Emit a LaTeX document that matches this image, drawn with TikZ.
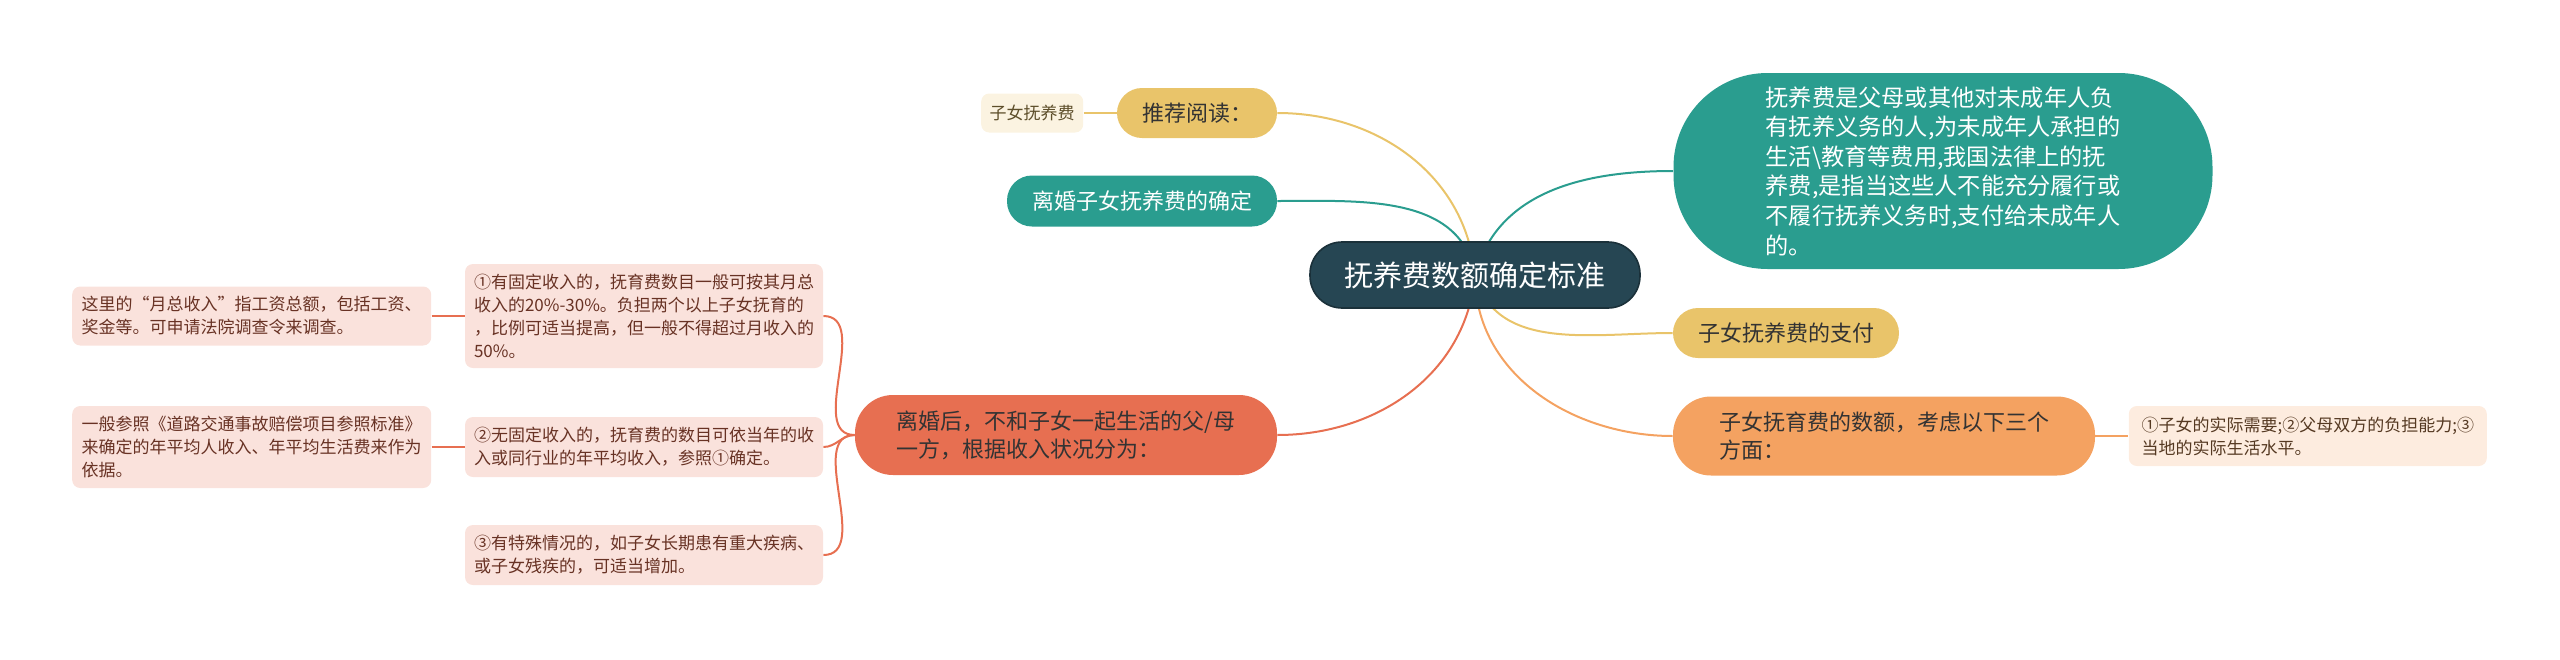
\documentclass[tikz,border=0pt]{standalone}
\usepackage{fontspec}
\setmainfont{Noto Sans CJK SC}
\usepackage{tikz}
\usetikzlibrary{positioning,backgrounds}
\definecolor{slate}{HTML}{264653}
\definecolor{sea}{HTML}{2A9D8F}
\definecolor{sand}{HTML}{E9C46A}
\definecolor{apricot}{HTML}{F4A261}
\definecolor{coral}{HTML}{E76F51}
\tikzset{node distance=16.5pt, auto}
\tikzset{
	root/.style={draw=slate!70!black, line width=0.8pt, fill=slate, text=white, rounded corners=16pt,
		minimum width=165pt, minimum height=33pt, font=\fontsize{14.5}{18}\selectfont},
	topic/.style={rounded corners=12.5pt, minimum height=25pt, align=left, text=black!80,
		font=\fontsize{11}{14}\selectfont},
	leaf/.style={rounded corners=4pt, inner xsep=4pt, align=left, font=\fontsize{8.5}{11.5}\selectfont},
	link/.style={line width=1pt},
}

\begin{document}
\begin{tikzpicture}[x=0.5pt, y=0.5pt]
	\useasboundingbox (0,0) rectangle (2560,-659);
	\node[root] (C) at (1475,-275) {抚养费数额确定标准};
	\node[topic, fill=sand, minimum width=80pt] (R) at (1197,-113) {推荐阅读：};
	\node[leaf, fill=sand!20, text=sand!40!black, minimum width=51pt, minimum height=19.5pt] (R1) [left=of R] {子女抚养费};
	\node[topic, fill=sea, text=white, minimum width=135pt, minimum height=25.5pt] (D) at (1142,-201) {离婚子女抚养费的确定};
	\node[topic, fill=sea, text=white, minimum width=269.5pt, minimum height=98pt, rounded corners=47pt,
		font=\fontsize{11.6}{14.8}\selectfont] (M) at (1943,-171)
		{抚养费是父母或其他对未成年人负\\有抚养义务的人,为未成年人承担的\\生活\textbackslash 教育等费用,我国法律上的抚\\养费,是指当这些人不能充分履行或\\不履行抚养义务时,支付给未成年人\\的。};
	\node[topic, fill=sand, minimum width=113pt] (P) at (1786,-333) {子女抚养费的支付};
	\node[topic, fill=apricot, minimum width=211pt, minimum height=39.5pt, rounded corners=19pt] (A) at (1884,-436)
		{子女抚育费的数额，考虑以下三个\\方面：};
	\node[leaf, fill=apricot!20, text=apricot!35!black, minimum width=179pt, minimum height=30pt] (A1) [right=of A]
		{①子女的实际需要;②父母双方的负担能力;③\\当地的实际生活水平。};
	\node[topic, fill=coral, minimum width=211pt, minimum height=40pt, rounded corners=19pt] (L) at (1066,-435)
		{离婚后，不和子女一起生活的父/母\\一方，根据收入状况分为：};
	\node[leaf, fill=coral!20, text=coral!45!black, minimum width=179pt, minimum height=52pt] (L1) at (644,-316)
		{①有固定收入的，抚育费数目一般可按其月总\\收入的20\%-30\%。负担两个以上子女抚育的\\，比例可适当提高，但一般不得超过月收入的\\50\%。};
	\node[leaf, fill=coral!20, text=coral!45!black, minimum width=179pt, minimum height=30pt] (L2) at (644,-447)
		{②无固定收入的，抚育费的数目可依当年的收\\入或同行业的年平均收入，参照①确定。};
	\node[leaf, fill=coral!20, text=coral!45!black, minimum width=179pt, minimum height=30pt] (L3) at (644,-555)
		{③有特殊情况的，如子女长期患有重大疾病、\\或子女残疾的，可适当增加。};
	\node[leaf, fill=coral!20, text=coral!45!black, minimum width=179.5pt, minimum height=29.5pt] (S1) [left=of L1]
		{这里的“月总收入”指工资总额，包括工资、\\奖金等。可申请法院调查令来调查。};
	\node[leaf, fill=coral!20, text=coral!45!black, minimum width=179.5pt, minimum height=41pt] (S2) [left=of L2]
		{一般参照《道路交通事故赔偿项目参照标准》\\来确定的年平均人收入、年平均生活费来作为\\依据。};
	\begin{scope}[on background layer]
		\draw[link, sand]		(R.east)	to[out=0, in=95]		(C.center);
		\draw[link, sea]		(D.east)	to[out=0, in=100]		(C.center);
		\draw[link, sea]		(M.west)	to[out=180, in=75]		(C.center);
		\draw[link, sand]		(P.west)	to[out=180, in=-75]		(C.center);
		\draw[link, apricot]	(A.west)	to[out=180, in=-90]		(C.center);
		\draw[link, coral]		(L.east)	to[out=0, in=-95]		(C.center);
		\draw[link, sand]		(R1)		--					(R);
		\draw[link, apricot]	(A)			--					(A1);
		\draw[link, coral]		(L.west)	to[out=180, in=0]		(L1.east);
		\draw[link, coral]		(L.west)	to[out=180, in=0]		(L2.east);
		\draw[link, coral]		(L.west)	to[out=180, in=0]		(L3.east);
		\draw[link, coral]		(S1)		--					(L1);
		\draw[link, coral]		(S2)		--					(L2);
	\end{scope}
\end{tikzpicture}
\end{document}
